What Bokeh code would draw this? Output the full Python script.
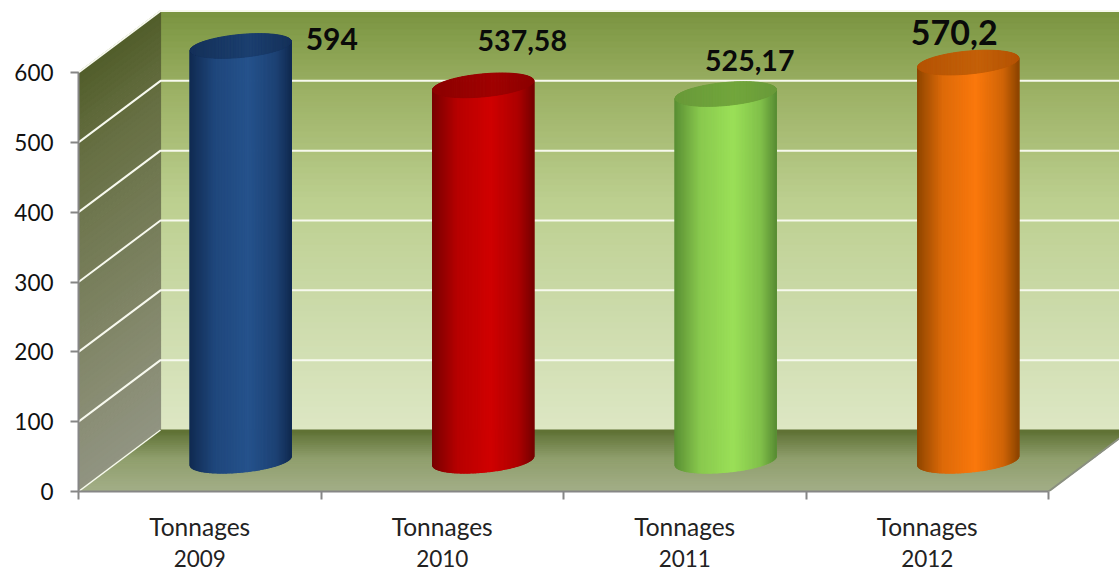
import math
from bokeh.plotting import figure
from bokeh.models import ColumnDataSource, FixedTicker, LinearAxis, Range1d
from bokeh.embed import file_html
from bokeh.resources import INLINE
from bokeh.core.properties import value

# ---- data ----
categories = ["Tonnages", "Tonnages", "Tonnages", "Tonnages"]
years = ["2009", "2010", "2011", "2012"]
tonnages = [594, 537.58, 525.17, 570.2]
value_labels = ["594", "537,58", "525,17", "570,2"]
y_ticks = [0, 100, 200, 300, 400, 500, 600]

# ---- styling / geometry ----
FONT = "Lato"
PX_X = 242.5            # px per category
PX_Y = 419 / 600        # px per value unit
DX = 82 / PX_X          # chart depth, x
DY = 61.5 / PX_Y        # chart depth, y
A = 50.5 / PX_X         # cylinder half width
B = 11.5 / PX_Y         # ellipse half height
S = 4.5 / PX_Y          # ellipse tilt
BAR_STYLES = [
    dict(edge="#112b52", mid="#25528c", top0="#15315a", top1="#1b3f70"),
    dict(edge="#780000", mid="#d00000", top0="#8c0000", top1="#a00000"),
    dict(edge="#5a8f34", mid="#9be058", top0="#699a3a", top1="#72a63c"),
    dict(edge="#8f4600", mid="#fb780c", top0="#b55304", top1="#c46008"),
]
LABEL_DX = [91, 39, 24, -14]
LABEL_DY = [-7, -45, -34, -30]
LABEL_SIZE = ["30px", "28.5px", "28.5px", "34px"]


def hex2rgb(c):
    return tuple(int(c[i:i + 2], 16) for i in (1, 3, 5))


def ramp(stops, t):
    for (t0, c0), (t1, c1) in zip(stops, stops[1:]):
        if t <= t1:
            f = (t - t0) / (t1 - t0) if t1 > t0 else 0
            a, b = hex2rgb(c0), hex2rgb(c1)
            return "#%02x%02x%02x" % tuple(round(a[i] + (b[i] - a[i]) * f) for i in range(3))
    return stops[-1][1]


XMAX = (1119 - 78) / PX_X
YMAX = 491 / PX_Y

p = figure(width=1119, height=571, output_backend="svg", toolbar_location=None,
           x_range=Range1d(0, XMAX), y_range=Range1d(0, YMAX),
           x_axis_location=None, y_axis_location=None,
           min_border_left=78, min_border_right=0, min_border_top=0, min_border_bottom=80,
           outline_line_color=None, background_fill_color=None, border_fill_color="white")
p.grid.visible = False

# back wall
back_stops = [(0, "#dde7c4"), (0.3, "#cbdaa9"), (0.55, "#bccf8f"), (0.8, "#9db266"), (1, "#7a9440")]
n = 70
xs, ys, cs = [], [], []
for i in range(n):
    v0, v1 = 600 * i / n, 600 * (i + 1) / n
    xs.append([DX, XMAX, XMAX, DX])
    ys.append([v0 + DY, v0 + DY, v1 + DY, v1 + DY])
    cs.append(ramp(back_stops, (i + .5) / n))
# side wall
side_stops = [(0, "#919482"), (0.2, "#888c72"), (0.8, "#666f42"), (1, "#515d2a")]
for i in range(n):
    v0, v1 = 600 * i / n, 600 * (i + 1) / n
    xs.append([0, DX, DX, 0])
    ys.append([v0, v0 + DY, v1 + DY, v1])
    cs.append(ramp(side_stops, (i + .5) / n))
# floor
floor_stops = [(0, "#a3ae88"), (0.55, "#8f9e6c"), (1, "#5e7033")]
m = 30
for i in range(m):
    f0, f1 = i / m, (i + 1) / m
    xs.append([f0 * DX, 4 + f0 * DX, 4 + f1 * DX, f1 * DX])
    ys.append([f0 * DY, f0 * DY, f1 * DY, f1 * DY])
    cs.append(ramp(floor_stops, (i + .5) / m))
p.patches("xs", "ys", source=ColumnDataSource(dict(xs=xs, ys=ys, c=cs)),
          fill_color="c", line_color="c", line_width=1.2)

# gridlines on both walls
p.multi_line([[0, DX, XMAX] for v in y_ticks if v > 0],
             [[v, v + DY, v + DY] for v in y_ticks if v > 0],
             line_color="#f7f9ee", line_width=2)
p.line([0, DX], [0, DY], line_color="#f7f9ee", line_width=1.5)
p.line([4, 4 + DX], [0, DY], line_color="#8a8f80", line_width=2)

# cylinders
for i, (val, st) in enumerate(zip(tonnages, BAR_STYLES)):
    cx = i + 0.5 + DX / 2
    cy = DY / 2
    k = 100
    sx, sy, sc = [], [], []
    tx, ty, tc = [], [], []
    shade = [(0, st["edge"]), (0.25, ramp([(0, st["edge"]), (1, st["mid"])], .72)),
             (0.58, st["mid"]), (0.85, ramp([(0, st["edge"]), (1, st["mid"])], .6)),
             (1, st["edge"])]
    cap = [(0, st["top0"]), (0.6, st["top1"]), (1, st["top0"])]
    for j in range(k):
        # angle sweeps the front half of the cylinder, left to right
        t0 = math.pi - math.pi * j / k
        t1 = math.pi - math.pi * (j + 1) / k
        x0, x1 = cx + A * math.cos(t0), cx + A * math.cos(t1)
        lo0 = -B * math.sin(t0) + S * math.cos(t0)
        lo1 = -B * math.sin(t1) + S * math.cos(t1)
        hi0 = B * math.sin(t0) + S * math.cos(t0)
        hi1 = B * math.sin(t1) + S * math.cos(t1)
        u = ((x0 + x1) / 2 - (cx - A)) / (2 * A)
        sx.append([x0, x1, x1, x0])
        sy.append([cy + lo0, cy + lo1, cy + val + lo1, cy + val + lo0])
        sc.append(ramp(shade, u))
        tx.append([x0, x1, x1, x0])
        ty.append([cy + val + lo0, cy + val + lo1, cy + val + hi1, cy + val + hi0])
        tc.append(ramp(cap, u))
    p.patches("xs", "ys", source=ColumnDataSource(dict(xs=sx, ys=sy, c=sc)),
              fill_color="c", line_color="c", line_width=1.2)
    # top cap
    p.patches("xs", "ys", source=ColumnDataSource(dict(xs=tx, ys=ty, c=tc)),
              fill_color="c", line_color="c", line_width=1)

# value labels, offset from each cylinder's top
src = ColumnDataSource(dict(
    x=[i + 0.5 + DX / 2 for i in range(4)],
    y=[DY / 2 + v for v in tonnages],
    t=value_labels, dx=LABEL_DX, dy=LABEL_DY, size=LABEL_SIZE))
p.text("x", "y", text="t", source=src, x_offset="dx", y_offset="dy",
       text_font=value(FONT), text_font_style="bold", text_font_size="size",
       text_color="#0a0a0a", text_align="center", text_baseline="middle")

# axes
yaxis = LinearAxis(ticker=FixedTicker(ticks=y_ticks), bounds=(0, 600))
yaxis.axis_line_color = "#868686"
yaxis.axis_line_width = 2
yaxis.major_tick_line_color = "#868686"
yaxis.major_tick_line_width = 2
yaxis.major_tick_out = 8
yaxis.major_tick_in = 0
yaxis.minor_tick_line_color = None
yaxis.major_label_standoff = 17
yaxis.major_label_text_font = FONT
yaxis.major_label_text_font_size = "22.5px"
yaxis.major_label_text_color = "#111111"
p.add_layout(yaxis, "left")

centers = [i + 0.5 for i in range(4)]
xaxis = LinearAxis(ticker=FixedTicker(ticks=centers, minor_ticks=[0, 1, 2, 3, 4]), bounds=(0, 4))
xaxis.major_label_overrides = {c: t for c, t in zip(centers, categories)}
xaxis.axis_line_color = "#868686"
xaxis.axis_line_width = 2
xaxis.major_tick_line_color = None
xaxis.minor_tick_line_color = "#868686"
xaxis.minor_tick_line_width = 2
xaxis.minor_tick_out = 8
xaxis.minor_tick_in = 0
xaxis.major_label_standoff = 12
xaxis.major_label_text_font = FONT
xaxis.major_label_text_font_size = "24.5px"
xaxis.major_label_text_color = "#222222"
p.add_layout(xaxis, "below")

xaxis2 = LinearAxis(ticker=FixedTicker(ticks=centers, minor_ticks=[]), bounds=(0, 4))
xaxis2.major_label_overrides = {c: t for c, t in zip(centers, years)}
xaxis2.axis_line_color = None
xaxis2.major_tick_line_color = None
xaxis2.minor_tick_line_color = None
xaxis2.major_tick_out = 0
xaxis2.major_tick_in = 0
xaxis2.major_label_standoff = 6
xaxis2.major_label_text_font = FONT
xaxis2.major_label_text_font_size = "22.5px"
xaxis2.major_label_text_color = "#222222"
p.add_layout(xaxis2, "below")

open("out.html", "w").write(file_html(p, INLINE))
